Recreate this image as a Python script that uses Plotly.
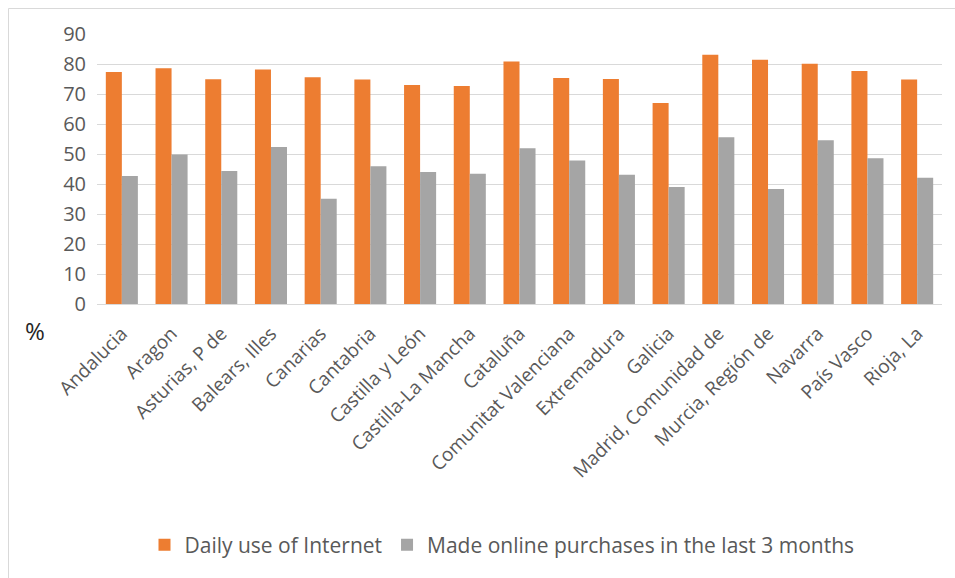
import plotly.graph_objects as go

regions = ["Andalucia", "Aragon", "Asturias, P de", "Balears, Illes", "Canarias",
           "Cantabria", "Castilla y León", "Castilla-La Mancha", "Cataluña",
           "Comunitat Valenciana", "Extremadura", "Galicia", "Madrid, Comunidad de",
           "Murcia, Región de", "Navarra", "País Vasco", "Rioja, La"]
daily_internet = [77.3, 78.6, 74.9, 78.2, 75.6, 74.8, 73.0, 72.7, 80.8, 75.3, 75.0,
                  67.0, 83.1, 81.4, 80.1, 77.7, 74.8]
online_purchases = [42.7, 49.8, 44.3, 52.3, 35.1, 45.9, 44.0, 43.4, 51.9, 47.8, 43.1,
                    39.0, 55.6, 38.3, 54.6, 48.6, 42.1]
y_ticks = [0, 10, 20, 30, 40, 50, 60, 70, 80, 90]

W, H = 955, 578
L, R, T, B = 97, 13, 34, 274
pw, ph = W - L - R, H - T - B

def px(x):
    return (x - L) / pw

def py(y):
    return (H - B - y) / ph

FONT = "Open Sans"
fig = go.Figure()
fig.add_trace(go.Bar(x=regions, y=daily_internet, name="Daily use of Internet",
                     marker=dict(color="#ED7D31", line=dict(width=0))))
fig.add_trace(go.Bar(x=regions, y=online_purchases,
                     name="Made online purchases in the last 3 months",
                     marker=dict(color="#A5A5A5", line=dict(width=0))))

fig.update_layout(
    width=W, height=H,
    margin=dict(l=L, r=R, t=T, b=B, autoexpand=False),
    paper_bgcolor="white", plot_bgcolor="white",
    barmode="group", bargap=0.355, bargroupgap=0,
    font=dict(family=FONT, color="#595959", size=14),
    xaxis=dict(tickangle=-45, tickfont=dict(size=19, color="#595959"),
               showgrid=False, showline=True, linecolor="#d9d9d9", linewidth=1,
               ticks="", ticklen=0, ticklabelstandoff=10),
    yaxis=dict(range=[0, 90], tickvals=y_ticks, tickfont=dict(size=20, color="#595959"),
               showgrid=True, gridcolor="#d9d9d9", gridwidth=1, zeroline=False,
               showline=False, ticks="", ticklabelstandoff=10),
    legend=dict(orientation="h", x=px(502), xanchor="center", y=py(545), yanchor="middle",
                font=dict(size=21, color="#595959"), itemsizing="constant",
                traceorder="normal", itemwidth=30),
    showlegend=True,
)
fig.add_annotation(text="%", x=px(35), y=py(330), xref="paper", yref="paper",
                   xanchor="center", yanchor="middle",
                   showarrow=False, font=dict(size=24, color="#262626"))
fig.add_shape(type="line", xref="paper", yref="paper",
              x0=px(8.5), x1=px(8.5), y0=py(578), y1=py(8.5),
              line=dict(color="#d9d9d9", width=1))
fig.add_shape(type="line", xref="paper", yref="paper",
              x0=px(8.5), x1=px(955), y0=py(8.5), y1=py(8.5),
              line=dict(color="#d9d9d9", width=1))

fig.write_html("out.html")
